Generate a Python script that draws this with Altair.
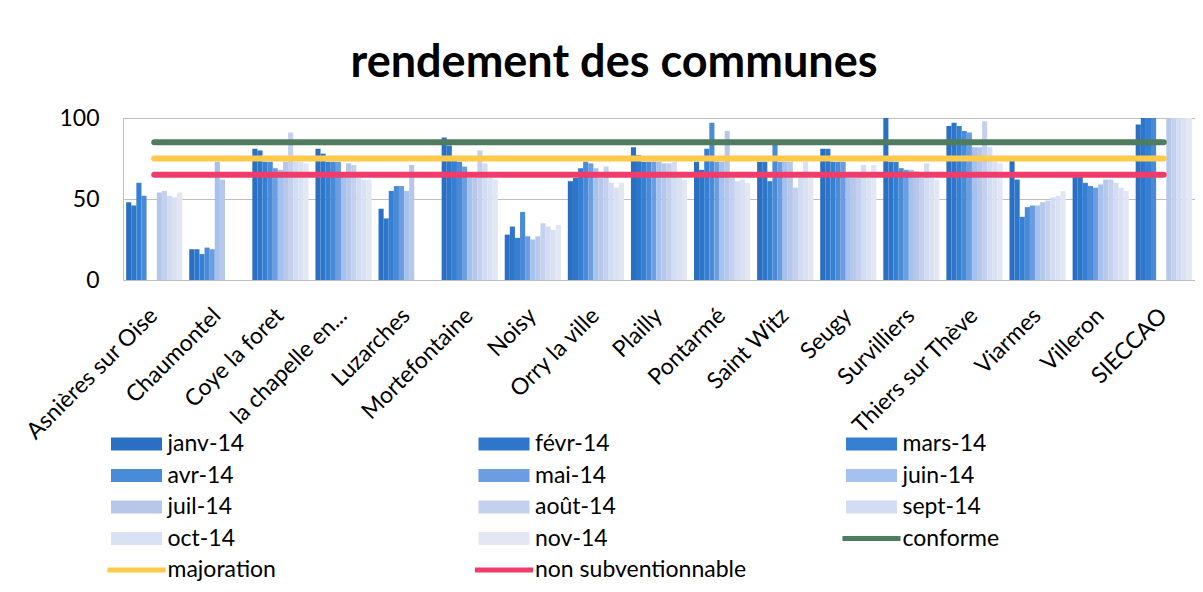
import altair as alt
import pandas as pd

communes = ["Asnières sur Oise", "Chaumontel", "Coye la foret", "la chapelle en...",
            "Luzarches", "Mortefontaine", "Noisy", "Orry la ville", "Plailly",
            "Pontarmé", "Saint Witz", "Seugy", "Survilliers", "Thiers sur Thève",
            "Viarmes", "Villeron", "SIECCAO"]
mois = ["janv-14", "févr-14", "mars-14", "avr-14", "mai-14", "juin-14",
        "juil-14", "août-14", "sept-14", "oct-14", "nov-14"]

asnieres = [48, 46, 60, 52, 0, 0, 54, 55, 52, 51, 54]
chaumontel = [19, 19, 16, 20, 19, 73, 62, 0, 0, 0, 0]
coye = [81, 80, 73, 73, 69, 68, 73, 91, 73, 73, 72]
chapelle = [81, 78, 73, 73, 73, 64, 72, 71, 63, 62, 62]
luzarches = [44, 38, 55, 58, 58, 55, 71, 0, 0, 0, 0]
mortefontaine = [88, 83, 74, 73, 70, 63, 63, 80, 72, 63, 62]
noisy = [28, 33, 26, 42, 27, 25, 27, 35, 33, 31, 34]
orry = [61, 63, 69, 73, 72, 69, 63, 70, 60, 57, 60]
plailly = [82, 77, 73, 73, 73, 73, 72, 72, 73, 63, 62]
pontarme = [73, 68, 81, 97, 73, 73, 92, 63, 61, 62, 60]
saint_witz = [73, 73, 61, 84, 73, 73, 73, 57, 63, 73, 63]
seugy = [81, 81, 73, 73, 73, 63, 63, 63, 71, 63, 71]
survilliers = [102, 73, 73, 69, 68, 68, 67, 63, 72, 63, 62]
thiers = [95, 97, 95, 92, 91, 82, 82, 98, 82, 73, 72]
viarmes = [74, 62, 39, 45, 46, 46, 48, 49, 51, 52, 55]
villeron = [65, 64, 60, 58, 57, 59, 62, 62, 60, 57, 55]
sieccao = [96, 105, 105, 105, 0, 0, 105, 105, 105, 105, 105]

rendements = [asnieres, chaumontel, coye, chapelle, luzarches, mortefontaine, noisy,
              orry, plailly, pontarme, saint_witz, seugy, survilliers, thiers,
              viarmes, villeron, sieccao]

seuils_noms = ["conforme", "majoration", "non subventionnable"]
seuils_valeurs = [85, 75, 65]

couleurs_mois = ["#2A6FC2", "#2D76CA", "#3580D2", "#4A8BD8", "#6C9DE0", "#A5C2EE",
                 "#B6C7E9", "#C3D0EE", "#D2DCF3", "#D9E1F3", "#E2E7F3"]
couleurs_seuils = ["#4F7C5F", "#FFC94A", "#F03C6A"]

FONT = "Lato"

bars_df = pd.DataFrame([
    {"commune": c, "mois": m, "rendement": v}
    for c, vals in zip(communes, rendements) for m, v in zip(mois, vals)
])
lines_df = pd.DataFrame([
    {"commune": c, "serie": s, "valeur": v}
    for s, v in zip(seuils_noms, seuils_valeurs) for c in communes
])
legend_labels = mois + seuils_noms
legend_df = pd.DataFrame({
    "label": legend_labels,
    "kind": ["barre"] * len(mois) + ["ligne"] * len(seuils_noms),
    "col": [i % 3 for i in range(len(legend_labels))],
    "row": [i // 3 for i in range(len(legend_labels))],
})

color_scale = alt.Scale(domain=legend_labels, range=couleurs_mois + couleurs_seuils)
y_scale = alt.Scale(domain=[0, 100], nice=False)

bars = alt.Chart(bars_df).mark_bar(clip=True).encode(
    x=alt.X("commune:N", sort=communes,
            scale=alt.Scale(paddingInner=0.11, paddingOuter=0.05),
            axis=alt.Axis(title=None, labelAngle=-45, labelFontSize=23, labelFont=FONT,
                          labelColor="#000000", ticks=False, domain=True,
                          domainColor="#BFBFBF", labelPadding=24, labelOffset=-8,
                          labelLimit=300)),
    xOffset=alt.XOffset("mois:N", sort=mois, scale=alt.Scale(paddingInner=0, paddingOuter=0)),
    y=alt.Y("rendement:Q", scale=y_scale,
            axis=alt.Axis(title=None, values=[0, 50, 100], labelFontSize=23, labelFont=FONT,
                          labelColor="#000000", grid=True, gridColor="#BFBFBF",
                          ticks=False, domain=False, labelPadding=24)),
    color=alt.Color("mois:N", scale=color_scale, legend=None),
)

lines = alt.Chart(lines_df).mark_line(strokeWidth=6, strokeCap="round").encode(
    x=alt.X("commune:N", sort=communes),
    y=alt.Y("valeur:Q", scale=y_scale),
    color=alt.Color("serie:N", scale=color_scale, legend=None),
    detail="serie:N",
)

leg_x = alt.X("col:Q", scale=alt.Scale(domain=[0, 2], range=[13.5, 748.5]), axis=None)
leg_y = alt.Y("row:Q", scale=alt.Scale(domain=[0, 4], range=[326, 452]), axis=None)

path_barre = "M-1,-0.255H1V0.255H-1Z"
path_ligne = "M-1.14,-0.1H1.14V0.1H-1.14Z"

leg_sym = alt.Chart(legend_df).mark_point(filled=True, opacity=1, size=2601).encode(
    x=leg_x, y=leg_y,
    color=alt.Color("label:N", scale=color_scale, legend=None),
    shape=alt.Shape("kind:N", scale=alt.Scale(domain=["barre", "ligne"],
                                              range=[path_barre, path_ligne]), legend=None),
)
leg_txt = alt.Chart(legend_df).mark_text(align="left", baseline="middle", dx=31,
                                         fontSize=23, font=FONT, color="#000000").encode(
    x=leg_x, y=leg_y, text="label:N",
)

chart = alt.layer(
    alt.layer(bars, lines),
    alt.layer(leg_sym, leg_txt),
).resolve_scale(x="independent", y="independent").properties(
    width=1072, height=162,
    title=alt.TitleParams("rendement des communes", fontSize=45, font=FONT,
                          fontWeight="bold", color="#000000", anchor="middle",
                          dx=-45, dy=40, offset=25, baseline="alphabetic"),
    autosize=alt.AutoSizeParams(type="none"),
    padding={"left": 115, "top": 110, "right": 0, "bottom": 304},
).configure(font=FONT).configure_view(stroke="#BFBFBF", strokeWidth=1)

chart.save("out.html", embed_options={"renderer": "svg", "actions": False})
